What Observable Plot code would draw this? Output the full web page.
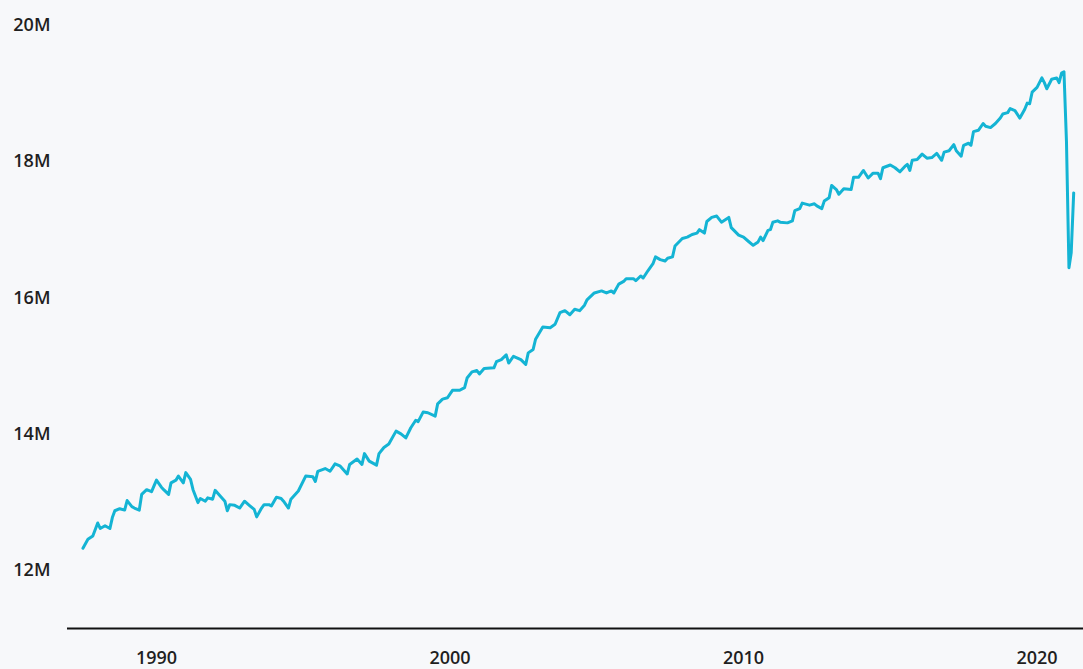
<!DOCTYPE html>
<html>
<head>
<meta charset="utf-8">
<script src="https://cdn.jsdelivr.net/npm/d3@7"></script>
<script src="https://cdn.jsdelivr.net/npm/@observablehq/plot@0.6"></script>
<style>
  html, body { margin: 0; padding: 0; background: #f7f8fa; }
  #chart svg { display: block; }
</style>
</head>
<body>
<div id="chart"></div>
<script>
const months = [
"1987-07","1987-09","1987-11","1988-01","1988-02","1988-04","1988-06","1988-07","1988-08","1988-10","1988-12",
"1989-01","1989-03","1989-04","1989-06","1989-07","1989-09","1989-11",
"1990-01","1990-03","1990-04","1990-06","1990-07","1990-09","1990-10","1990-12",
"1991-01","1991-03","1991-04","1991-06","1991-07","1991-09","1991-10","1991-12",
"1992-01","1992-03","1992-05","1992-06","1992-07","1992-09","1992-11",
"1993-01","1993-03","1993-05","1993-06","1993-08","1993-09","1993-11","1993-12",
"1994-02","1994-04","1994-05","1994-07","1994-08","1994-11",
"1995-02","1995-05","1995-06","1995-07","1995-10","1995-12",
"1996-02","1996-04","1996-07","1996-08","1996-11",
"1997-01","1997-02","1997-04","1997-07","1997-08","1997-10","1997-12",
"1998-03","1998-05","1998-07","1998-09","1998-11","1998-12",
"1999-02","1999-04","1999-07","1999-08","1999-10","1999-12",
"2000-02","2000-05","2000-07","2000-08","2000-10","2000-12",
"2001-01","2001-03","2001-07","2001-08","2001-10","2001-12",
"2002-01","2002-03","2002-06","2002-08","2002-09","2002-11","2002-12",
"2003-03","2003-06","2003-08","2003-10","2003-12",
"2004-02","2004-04","2004-06","2004-08","2004-09","2004-12",
"2005-03","2005-05","2005-07","2005-08","2005-10","2005-12",
"2006-01","2006-04","2006-05","2006-07","2006-08","2006-10","2006-12",
"2007-01","2007-03","2007-05","2007-06","2007-08","2007-09","2007-12",
"2008-02","2008-04","2008-06","2008-07","2008-09","2008-10","2008-12",
"2009-02","2009-04","2009-07","2009-08","2009-11",
"2010-01","2010-03","2010-05","2010-07","2010-08","2010-09","2010-11","2010-12",
"2011-01","2011-03","2011-04","2011-07","2011-09","2011-10","2011-12",
"2012-01","2012-04","2012-06","2012-07","2012-09","2012-10","2012-12",
"2013-01","2013-03","2013-04","2013-06","2013-09","2013-10","2013-12",
"2014-02","2014-04","2014-06","2014-08","2014-09","2014-10",
"2015-01","2015-03","2015-05","2015-07","2015-08","2015-09","2015-10","2015-12",
"2016-02","2016-04","2016-06","2016-08","2016-10","2016-11",
"2017-01","2017-03","2017-04","2017-06","2017-07","2017-09","2017-10","2017-11",
"2018-01","2018-03","2018-04","2018-06","2018-08","2018-10","2018-11",
"2019-01","2019-02","2019-04","2019-06","2019-08","2019-09","2019-10","2019-11",
"2020-01","2020-03","2020-04","2020-05","2020-07","2020-09","2020-10","2020-11","2020-12",
"2021-01","2021-02","2021-03","2021-04"
];

// values in millions
const values = [
12.32,12.45,12.50,12.69,12.61,12.65,12.61,12.77,12.87,12.90,12.88,
13.02,12.93,12.91,12.88,13.11,13.18,13.15,
13.32,13.22,13.18,13.11,13.28,13.32,13.38,13.28,
13.43,13.33,13.18,12.99,13.05,13.01,13.06,13.04,
13.17,13.09,13.01,12.87,12.96,12.95,12.91,
13.01,12.95,12.89,12.78,12.91,12.96,12.96,12.94,
13.07,13.05,13.01,12.91,13.04,13.16,
13.38,13.37,13.30,13.45,13.49,13.45,
13.56,13.53,13.41,13.55,13.63,
13.55,13.71,13.60,13.54,13.71,13.80,13.85,
14.04,14.00,13.94,14.09,14.20,14.18,
14.32,14.31,14.26,14.44,14.51,14.53,
14.64,14.64,14.68,14.82,14.91,14.93,
14.88,14.96,14.97,15.06,15.09,15.16,
15.04,15.14,15.09,15.02,15.19,15.24,15.39,
15.57,15.56,15.61,15.78,15.81,
15.75,15.83,15.81,15.89,15.97,16.07,
16.10,16.07,16.10,16.07,16.20,16.24,
16.28,16.28,16.25,16.32,16.29,16.40,16.50,
16.60,16.56,16.54,16.58,16.60,16.76,16.87,
16.89,16.93,16.95,17.00,16.95,17.12,17.18,
17.20,17.11,17.18,17.03,16.92,
16.89,16.83,16.77,16.82,16.89,16.84,16.99,17.00,
17.11,17.13,17.11,17.10,17.13,17.28,17.31,
17.39,17.36,17.38,17.35,17.31,17.42,17.47,
17.65,17.59,17.52,17.60,17.59,17.77,17.77,
17.87,17.76,17.83,17.83,17.75,17.91,
17.95,17.91,17.85,17.93,17.96,17.87,18.02,18.03,
18.11,18.05,18.06,18.12,18.02,18.14,
18.16,18.25,18.16,18.08,18.24,18.27,18.24,18.44,
18.46,18.56,18.52,18.50,18.56,18.64,18.70,
18.72,18.78,18.75,18.64,18.77,18.86,18.85,19.02,
19.09,19.23,19.16,19.07,19.21,19.23,19.16,19.30,19.32,
18.30,16.44,16.66,17.54
];

const yTicks = [12e6, 14e6, 16e6, 18e6, 20e6];
const xTickYears = ["1990-01-01", "2000-01-01", "2010-01-01", "2020-01-01"];
const yDomain = [11.14e6, 20e6];
const xDomain = ["1986-12-21", "2021-08-01"];

const parse = d3.utcParse("%Y-%m");
const data = months.map((m, i) => ({date: parse(m), value: values[i] * 1e6}));

const chart = Plot.plot({
  width: 1083,
  height: 669,
  marginLeft: 67,
  marginRight: 0,
  marginTop: 25,
  marginBottom: 41,
  style: {
    background: "#f7f8fa",
    color: "#1f1f1f",
    fontFamily: "'Open Sans', 'Noto Sans', sans-serif",
    fontSize: "18px",
    fontWeight: 600
  },
  x: {type: "utc", domain: xDomain.map(d => new Date(d))},
  y: {domain: yDomain},
  marks: [
    Plot.axisY({
      ticks: yTicks,
      tickFormat: d => d / 1e6 + "M",
      tickSize: 0,
      tickPadding: 17,
      label: null,
      fontSize: 18,
      fontWeight: 600
    }),
    Plot.axisX({
      ticks: xTickYears.map(d => new Date(d)),
      tickFormat: d3.utcFormat("%Y"),
      tickSize: 0,
      tickPadding: 23,
      label: null,
      fontSize: 18,
      fontWeight: 600
    }),
    Plot.ruleY([yDomain[0]], {stroke: "#111", strokeWidth: 2}),
    Plot.lineY(data, {
      x: "date",
      y: "value",
      stroke: "#14b4d4",
      strokeWidth: 3,
      strokeLinejoin: "round",
      strokeLinecap: "round"
    })
  ]
});

document.getElementById("chart").appendChild(chart);
</script>
</body>
</html>
